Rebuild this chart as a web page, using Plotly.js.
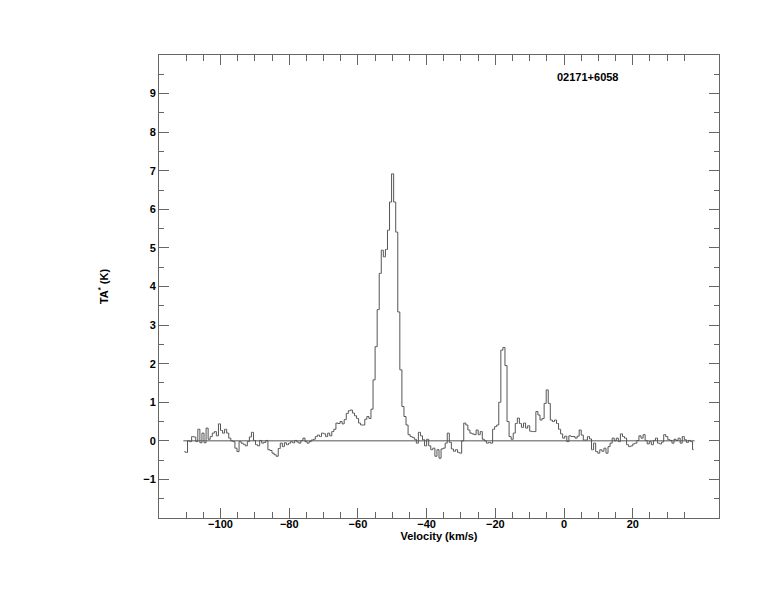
<!DOCTYPE html>
<html>
<head>
<meta charset="utf-8">
<script src="https://cdn.plot.ly/plotly-3.0.1.min.js"></script>
<style>
  html, body { margin: 0; padding: 0; background: #ffffff; }
  #chart { width: 774px; height: 612px; }
</style>
</head>
<body>
<div id="chart"></div>
<script>
// Spectrum of 02171+6058: channel start velocity (km/s), channel width (km/s), antenna temperature per channel (K)
var startVelocity = -110.8;
var channelWidth = 0.6;
var antennaTemp = [
  -0.28,-0.30,0.00,-0.02,0.11,0.10,-0.02,0.30,-0.05,0.20,
  -0.05,0.33,0.04,0.11,0.20,0.24,0.13,0.44,0.27,0.20,
  0.30,0.20,0.07,0.00,-0.02,-0.19,-0.28,-0.02,-0.06,-0.09,
  -0.13,-0.02,0.10,0.22,0.01,-0.10,-0.13,0.01,-0.06,-0.04,
  0.01,-0.23,
  -0.25,-0.32,-0.36,-0.40,-0.20,-0.06,-0.15,-0.05,-0.10,-0.06,
  -0.02,-0.05,0.01,-0.03,-0.06,0.01,0.07,-0.02,-0.06,-0.02,
  0.02,0.04,0.11,0.15,0.11,0.20,0.18,0.11,0.20,0.13,
  0.24,0.30,0.46,0.45,0.50,0.44,0.55,0.71,0.78,0.80,
  0.72,0.65,0.58,0.46,
  0.41,0.41,0.56,0.63,0.58,0.82,1.58,2.44,3.40,4.34,
  4.94,4.77,4.96,5.46,6.19,6.92,6.19,5.41,3.34,1.84,
  0.89,0.63,0.41,0.16,0.11,0.09,0.04,-0.06,0.22,0.13,
  0.03,-0.13,0.04,-0.13,-0.23,-0.19,-0.40,-0.23,-0.45,-0.21,
  -0.19,-0.06,0.20,-0.04,-0.21,-0.27,-0.23,-0.30,
  -0.32,0.00,0.46,0.41,0.28,0.20,0.18,0.16,0.28,0.16,
  0.24,0.04,0.00,-0.06,-0.04,-0.06,0.30,0.37,0.41,1.00,
  2.35,2.42,1.95,0.50,0.11,0.04,0.20,0.45,0.59,0.45,
  0.35,0.46,0.33,0.39,0.25,0.24,0.24,0.76,0.67,0.54,
  0.58,0.97,1.32,0.97,0.54,0.50,0.54,0.45,0.30,0.18,
  0.07,0.12,-0.02,0.13,0.11,0.11,0.07,0.12,0.28,0.15,
  0.02,
  0.02,0.11,0.05,-0.23,-0.06,-0.28,-0.32,-0.23,-0.27,-0.19,
  -0.32,-0.15,-0.06,0.07,0.00,0.07,-0.02,0.18,0.11,0.07,
  -0.10,-0.15,-0.13,-0.08,-0.06,0.01,0.13,0.07,0.16,0.01,
  -0.08,-0.02,-0.10,0.01,0.07,-0.06,-0.08,-0.03,0.16,0.11,
  0.03,0.01,-0.06,0.04,0.01,0.07,-0.06,0.11,0.03,-0.04,
  0.01,-0.02,-0.23
];
var xTickVals = [-100, -80, -60, -40, -20, 0, 20];
var xMinorStart = -110, xMinorEnd = 35, xMinorStep = 5;
var yTickVals = [-1, 0, 1, 2, 3, 4, 5, 6, 7, 8, 9];
var sourceName = "02171+6058";
var xTitle = "Velocity (km/s)";
var yTitle = "TA<sup>*</sup> (K)";

var velocity = antennaTemp.map(function (_, i) { return startVelocity + (i + 0.5) * channelWidth; });
var xMinorVals = [];
for (var t = xMinorStart; t <= xMinorEnd; t += xMinorStep) xMinorVals.push(t);

var fontFam = "Liberation Sans, Arial, Helvetica, sans-serif";
var axisColor = "#666666";

var traces = [
  {
    x: [startVelocity, startVelocity + antennaTemp.length * channelWidth],
    y: [0, 0],
    mode: "lines",
    line: { color: "#555555", width: 1 },
    hoverinfo: "skip",
    showlegend: false
  },
  {
    x: velocity,
    y: antennaTemp,
    mode: "lines",
    line: { color: "#555555", width: 1, shape: "hvh" },
    showlegend: false
  }
];

var layout = {
  width: 774,
  height: 612,
  margin: { l: 159, r: 55, t: 55, b: 94 },
  paper_bgcolor: "#ffffff",
  plot_bgcolor: "#ffffff",
  font: { family: fontFam, size: 11, color: "#000000", weight: "bold" },
  xaxis: {
    range: [-117.9, 45.1],
    tickmode: "array",
    tickvals: xTickVals,
    ticks: "inside",
    ticklen: 10,
    tickwidth: 1,
    tickcolor: axisColor,
    ticklabelstandoff: -4,
    minor: { tickmode: "array", tickvals: xMinorVals, ticks: "inside", ticklen: 6, tickcolor: axisColor, showgrid: false },
    showline: true,
    linecolor: axisColor,
    linewidth: 1,
    mirror: "ticks",
    showgrid: false,
    zeroline: false,
    tickfont: { family: fontFam, size: 11, color: "#000000", weight: "bold" },
    title: { text: xTitle, standoff: 0, font: { family: fontFam, size: 11, color: "#000000", weight: "bold" } }
  },
  yaxis: {
    range: [-2, 10],
    tickmode: "array",
    tickvals: yTickVals,
    ticks: "inside",
    ticklen: 10,
    tickwidth: 1,
    tickcolor: axisColor,
    minor: { dtick: 0.5, tick0: 0, ticks: "inside", ticklen: 5, tickcolor: axisColor, showgrid: false },
    showline: true,
    linecolor: axisColor,
    linewidth: 1,
    mirror: "ticks",
    showgrid: false,
    zeroline: false,
    tickfont: { family: fontFam, size: 11, color: "#000000", weight: "bold" },
    title: { text: yTitle, standoff: 32, font: { family: fontFam, size: 11, color: "#000000", weight: "bold" } }
  },
  annotations: [
    {
      text: sourceName,
      xref: "paper", yref: "paper",
      x: 0.766, y: 0.9525,
      xanchor: "center", yanchor: "middle",
      showarrow: false,
      font: { family: fontFam, size: 11, color: "#000000", weight: "bold" }
    }
  ]
};

Plotly.newPlot("chart", traces, layout, { staticPlot: true, displayModeBar: false });
</script>
</body>
</html>
